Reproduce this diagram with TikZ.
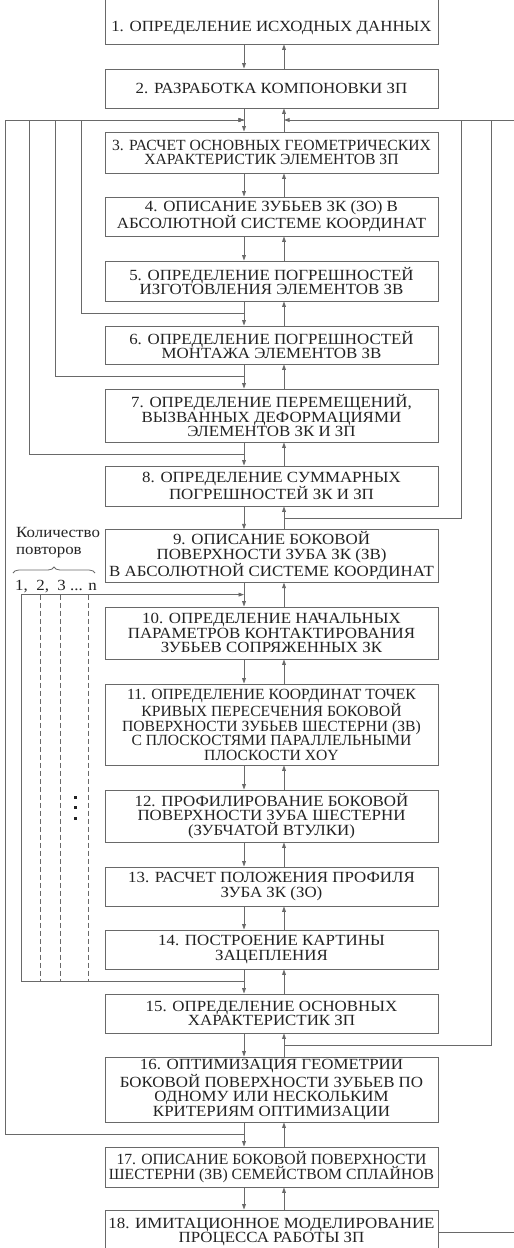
\documentclass[tikz,border=0pt]{standalone}
\usepackage{fontspec}
\setmainfont{Liberation Serif}[FakeStretch=1.09]
\newfontfamily\uzkij{Liberation Serif}[FakeStretch=1.01]
\usetikzlibrary{arrows.meta, positioning, calc, decorations.pathreplacing}
\definecolor{linegray}{RGB}{105,105,105}
\definecolor{textgray}{RGB}{35,35,35}
\tikzset{
  blok/.style={draw=linegray, line width=0.9pt, minimum width=333pt, inner sep=2pt,
    align=center, text=textgray, font=\fontsize{15.5}{14.5}\selectfont},
  uzko/.style={font=\uzkij\fontsize{15.5}{14.5}\selectfont},
  svaz/.style={draw=linegray, line width=0.8pt},
  strel/.style={svaz, -{Triangle[length=5.5pt,width=3.8pt]}},
  poyasn/.style={text=textgray, inner sep=0pt, font=\fontsize{15.5}{17}\selectfont},
}

\begin{document}
\begin{tikzpicture}[x=1pt, y=-1pt]
  \useasboundingbox (0,0) rectangle (514,1248);

  % blocks of the algorithm
  \node[blok, minimum height=56, text height=30pt, text depth=0pt] (b1) at (271.5,16) {1. ОПРЕДЕЛЕНИЕ ИСХОДНЫХ ДАННЫХ};
  \node[blok, minimum height=39] (b2) at (271.5,88.5) {2. РАЗРАБОТКА КОМПОНОВКИ ЗП};
  \node[blok, uzko, minimum height=41] (b3) at (271.5,152.5) {3. РАСЧЕТ ОСНОВНЫХ ГЕОМЕТРИЧЕСКИХ\\ХАРАКТЕРИСТИК ЭЛЕМЕНТОВ ЗП};
  \node[blok, minimum height=39] (b4) at (271.5,216.5) {4. ОПИСАНИЕ ЗУБЬЕВ ЗК (ЗО) В\\АБСОЛЮТНОЙ СИСТЕМЕ КООРДИНАТ};
  \node[blok, minimum height=40] (b5) at (271.5,281) {5. ОПРЕДЕЛЕНИЕ ПОГРЕШНОСТЕЙ\\ИЗГОТОВЛЕНИЯ ЭЛЕМЕНТОВ ЗВ};
  \node[blok, minimum height=38] (b6) at (271.5,345) {6. ОПРЕДЕЛЕНИЕ ПОГРЕШНОСТЕЙ\\МОНТАЖА ЭЛЕМЕНТОВ ЗВ};
  \node[blok, minimum height=53] (b7) at (271.5,415.5) {7. ОПРЕДЕЛЕНИЕ ПЕРЕМЕЩЕНИЙ,\\ВЫЗВАННЫХ ДЕФОРМАЦИЯМИ\\ЭЛЕМЕНТОВ ЗК И ЗП};
  \node[blok, minimum height=40] (b8) at (271.5,486) {8. ОПРЕДЕЛЕНИЕ СУММАРНЫХ\\ПОГРЕШНОСТЕЙ ЗК И ЗП};
  \node[blok, minimum height=52] (b9) at (271.5,556) {9. ОПИСАНИЕ БОКОВОЙ\\ПОВЕРХНОСТИ ЗУБА ЗК (ЗВ)\\В АБСОЛЮТНОЙ СИСТЕМЕ КООРДИНАТ};
  \node[blok, minimum height=52] (b10) at (271.5,633) {10. ОПРЕДЕЛЕНИЕ НАЧАЛЬНЫХ\\ПАРАМЕТРОВ КОНТАКТИРОВАНИЯ\\ЗУБЬЕВ СОПРЯЖЕННЫХ ЗК};
  \node[blok, uzko, minimum height=81] (b11) at (271.5,724.5) {11. ОПРЕДЕЛЕНИЕ КООРДИНАТ ТОЧЕК\\КРИВЫХ ПЕРЕСЕЧЕНИЯ БОКОВОЙ\\ПОВЕРХНОСТИ ЗУБЬЕВ ШЕСТЕРНИ (ЗВ)\\С ПЛОСКОСТЯМИ ПАРАЛЛЕЛЬНЫМИ\\ПЛОСКОСТИ XOY};
  \node[blok, minimum height=52] (b12) at (271.5,816) {12. ПРОФИЛИРОВАНИЕ БОКОВОЙ\\ПОВЕРХНОСТИ ЗУБА ШЕСТЕРНИ\\(ЗУБЧАТОЙ ВТУЛКИ)};
  \node[blok, minimum height=39] (b13) at (271.5,886.5) {13. РАСЧЕТ ПОЛОЖЕНИЯ ПРОФИЛЯ\\ЗУБА ЗК (ЗО)};
  \node[blok, minimum height=39] (b14) at (271.5,949.5) {14. ПОСТРОЕНИЕ КАРТИНЫ\\ЗАЦЕПЛЕНИЯ};
  \node[blok, minimum height=39] (b15) at (271.5,1013.5) {15. ОПРЕДЕЛЕНИЕ ОСНОВНЫХ\\ХАРАКТЕРИСТИК ЗП};
  \node[blok, minimum height=65] (b16) at (271.5,1089.5) {16. ОПТИМИЗАЦИЯ ГЕОМЕТРИИ\\БОКОВОЙ ПОВЕРХНОСТИ ЗУБЬЕВ ПО\\ОДНОМУ ИЛИ НЕСКОЛЬКИМ\\КРИТЕРИЯМ ОПТИМИЗАЦИИ};
  \node[blok, uzko, minimum height=40] (b17) at (271.5,1167) {17. ОПИСАНИЕ БОКОВОЙ ПОВЕРХНОСТИ\\ШЕСТЕРНИ (ЗВ) СЕМЕЙСТВОМ СПЛАЙНОВ};
  \node[blok, minimum height=44] (b18) at (271.5,1232) {18. ИМИТАЦИОННОЕ МОДЕЛИРОВАНИЕ\\ПРОЦЕССА РАБОТЫ ЗП};

  % vertical lines of the connectors
  \coordinate (dn) at (244,0);
  \coordinate (up) at (284,0);
  \coordinate (L1) at (81,0);
  \coordinate (L2) at (55,0);
  \coordinate (L3) at (29,0);
  \coordinate (L4) at (5,0);
  \coordinate (R1) at (461,0);
  \coordinate (R2) at (491,0);
  \coordinate (E) at (514,0);
  \coordinate (I1) at (21,0);

  % forward and backward arrows, junction points between blocks
  \foreach \a in {1,...,17} {
    \pgfmathtruncatemacro{\b}{\a+1}
    \coordinate (j\a) at ($(b\a.south)!0.5!(b\b.north)$);
    \draw[strel] (b\a.south -| dn) -- (b\b.north -| dn);
    \draw[strel] (b\b.north -| up) -- (b\a.south -| up);
  }

  % left loops back to block 3
  \foreach \j/\l in {5/L1, 6/L2, 7/L3, 16/L4}
    \draw[strel] (dn |- j\j) -| (\l |- j2) -- (dn |- j2);

  % right loops back to block 3
  \foreach \j/\r in {8/R1, 15/R2}
    \draw[svaz] (up |- j\j) -| (\r |- j2);
  \draw[strel] (E |- j2) -- (up |- j2);
  \draw[svaz] (b18.east) -- (E |- b18.east);

  % repetition loop 10...14
  \draw[strel] (dn |- j14) -| (I1 |- j9) -- (dn |- j9);
  \foreach \x in {40,60,88}
    \draw[svaz, dash pattern=on 5pt off 3pt] (\x,0 |- j9) -- (\x,0 |- j14);
  \foreach \y in {797,807,818}
    \fill[textgray] (73.5,\y-1.5) rectangle +(3,3);

  % number of repetitions
  \node[poyasn, anchor=west, align=left] (kol) at (16,543) {Количество\\повторов};
  \draw[svaz, decorate, decoration={brace, amplitude=6pt}] (13,573) -- (95,573);
  \node[poyasn, anchor=west] (nomera) at (15,587) {1, \ 2, \ 3 ... n};
\end{tikzpicture}
\end{document}
